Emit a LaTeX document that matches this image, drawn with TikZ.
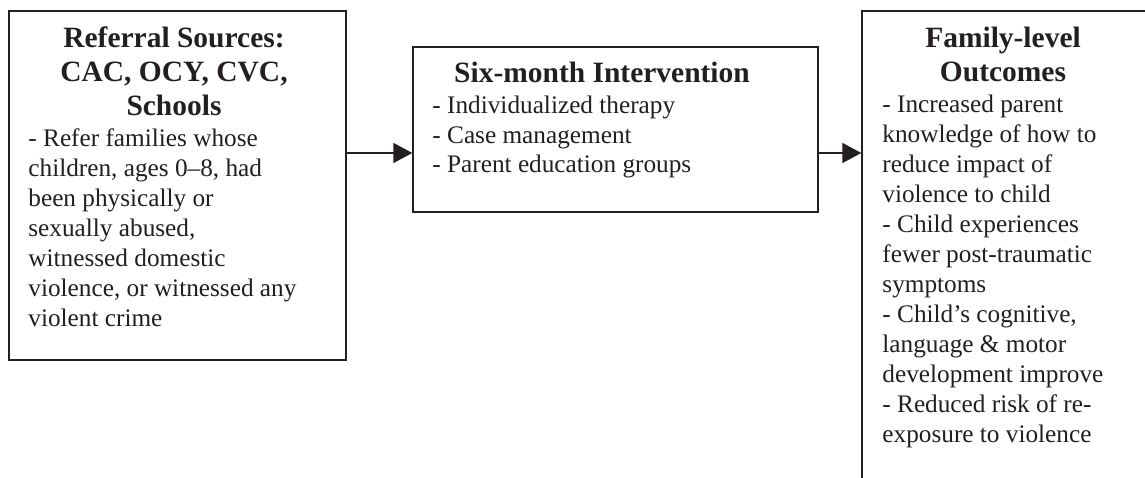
\documentclass[tikz,border=0pt]{standalone}
\usepackage{fontspec}
\setmainfont{Liberation Serif}
\usetikzlibrary{arrows.meta,fit}
\definecolor{ink}{RGB}{35,31,32}
\newcommand\bodytext{\fontsize{12}{14.25}\selectfont}
\newcommand\midtext{\fontsize{12}{14.0}\selectfont}
\newcommand\headtext{\fontsize{14}{16.15}\selectfont\bfseries}

\begin{document}
\begin{tikzpicture}[x=0.475pt,y=-0.475pt,
  frame/.style={draw=ink,line width=0.7pt,inner sep=0pt},
  head/.style={anchor=base,inner sep=0pt,text=ink,font=\headtext},
  body/.style={anchor=base west,inner sep=0pt,text=ink,font=\bodytext},
  link/.style={draw=ink,line width=0.7pt,-{Triangle[length=9pt,width=9.5pt]}}]
\clip (0,0) rectangle (1145,478);
\fill[white] (0,0) rectangle (1145,478);

% boxes
\node[frame,fit={(9,11)(346,360)}] (lbox) {};
\node[frame,fit={(413,47)(818,212)}] (mbox) {};
\node[frame,fit={(862,11)(1220,540)}] (rbox) {};

% referral sources
\node[head] (ltitle) at (174,47.5)
  {\begin{tabular}[t]{@{}c@{}}Referral Sources:\\ CAC, OCY, CVC,\\ Schools\end{tabular}};
\node[body] (lbody) at (28,147)
  {\begin{tabular}[t]{@{}l@{}}- Refer families whose\\ children, ages 0–8, had\\ been physically or\\
   sexually abused,\\ witnessed domestic\\ violence, or witnessed any\\ violent crime\end{tabular}};

% intervention
\node[head] (mtitle) at (602,83) {Six-month Intervention};
\node[body,font=\midtext] (mbody) at (432,114)
  {\begin{tabular}[t]{@{}l@{}}- Individualized therapy\\ - Case management\\ - Parent education groups\end{tabular}};

% outcomes
\node[head] (rtitle) at (1003,47.5)
  {\begin{tabular}[t]{@{}c@{}}Family-level\\ Outcomes\end{tabular}};
\node[body] (rbody) at (882,113)
  {\begin{tabular}[t]{@{}l@{}}- Increased parent\\ knowledge of how to\\ reduce impact of\\ violence to child\\
   - Child experiences\\ fewer post-traumatic\\ symptoms\\ - Child’s cognitive,\\
   language \& motor\\ development improve\\ - Reduced risk of re-\\ exposure to violence\end{tabular}};

% connectors
\coordinate (lvl) at (0,153);
\draw[link] (lbox.east |- lvl) -- (mbox.west |- lvl);
\draw[link] (mbox.east |- lvl) -- (rbox.west |- lvl);
\end{tikzpicture}
\end{document}
